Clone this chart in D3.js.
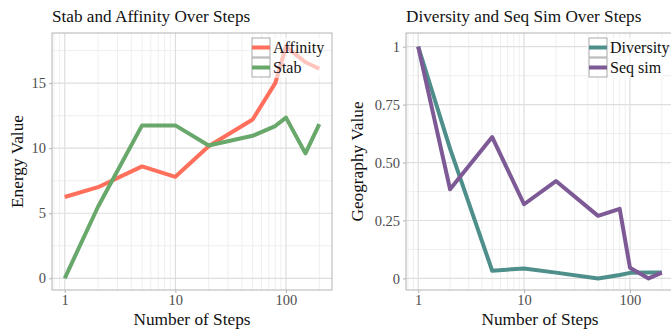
<!DOCTYPE html>
<html>
<head>
<meta charset="utf-8">
<script src="https://cdn.jsdelivr.net/npm/d3@7"></script>
<style>
  body { margin: 0; background: #fff; }
  svg { display: block; font-family: "Liberation Serif", "Times New Roman", serif; }
</style>
</head>
<body>
<svg id="chart" width="671" height="330"></svg>
<script>
const steps = [1, 2, 5, 10, 20, 50, 80, 100, 150, 200];
const affinity = [6.25, 7.0, 8.6, 7.8, 10.15, 12.2, 15.0, 17.8, 16.6, 16.1];
const stab = [0.0, 5.5, 11.75, 11.75, 10.2, 10.95, 11.7, 12.35, 9.6, 11.85];
const diversity = [1.0, 0.56, 0.033, 0.043, 0.025, 0.0, 0.015, 0.024, 0.025, 0.025];
const seqSim = [1.0, 0.385, 0.61, 0.32, 0.42, 0.27, 0.30, 0.046, 0.0, 0.025];

const xTicks = [1, 10, 100];
const leftYTicks = [0, 5, 10, 15];
const leftYLabels = ['0', '5', '10', '15'];
const rightYTicks = [0, 0.25, 0.5, 0.75, 1];
const rightYLabels = ['0', '0.25', '0.50', '0.75', '1'];

const FONT = '"Liberation Serif", "Times New Roman", serif';
const svg = d3.select('#chart');

function minorLogTicks(lo, hi) {
  const out = [];
  for (let p = -1; p <= 3; p++) {
    for (let m = 2; m < 10; m++) {
      const v = m * Math.pow(10, p);
      if (v > lo && v < hi) out.push(v);
    }
  }
  return out;
}

function panel(opts) {
  const { left, right, top, bottom, yDomain, yTicks, yLabels, yMinor, series, title, yTitle, yTitleX } = opts;

  const x = d3.scaleLog().domain([Math.pow(10, -0.115), Math.pow(10, 2.416)]).range([left, right]);
  const y = d3.scaleLinear().domain(yDomain).range([bottom, top]);

  const g = svg.append('g');
  const clipId = 'clip' + left;
  g.append('clipPath').attr('id', clipId)
    .append('rect').attr('x', left).attr('y', top).attr('width', right - left).attr('height', bottom - top);

  // minor grid
  const grid = g.append('g').attr('clip-path', `url(#${clipId})`);
  grid.selectAll('.vminor')
    .data(minorLogTicks(x.domain()[0], x.domain()[1]))
    .join('line')
    .attr('x1', d => x(d)).attr('x2', d => x(d))
    .attr('y1', top).attr('y2', bottom)
    .attr('stroke', '#efefef').attr('stroke-width', 1);
  grid.selectAll('.hminor')
    .data(yMinor)
    .join('line')
    .attr('y1', d => y(d)).attr('y2', d => y(d))
    .attr('x1', left).attr('x2', right)
    .attr('stroke', '#efefef').attr('stroke-width', 1);
  // major grid
  grid.selectAll('.vmajor')
    .data(xTicks)
    .join('line')
    .attr('x1', d => x(d)).attr('x2', d => x(d))
    .attr('y1', top).attr('y2', bottom)
    .attr('stroke', '#dedede').attr('stroke-width', 1.2);
  grid.selectAll('.hmajor')
    .data(yTicks)
    .join('line')
    .attr('y1', d => y(d)).attr('y2', d => y(d))
    .attr('x1', left).attr('x2', right)
    .attr('stroke', '#dedede').attr('stroke-width', 1.2);

  // lines
  const line = d3.line().x((d, i) => x(steps[i])).y(d => y(d));
  const lines = g.append('g').attr('clip-path', `url(#${clipId})`);
  series.forEach(s => {
    lines.append('path')
      .datum(s.values)
      .attr('d', line)
      .attr('fill', 'none')
      .attr('stroke', s.color)
      .attr('stroke-width', 4)
      .attr('stroke-linejoin', 'round');
  });

  // panel border
  g.append('rect')
    .attr('x', left).attr('y', top)
    .attr('width', right - left).attr('height', bottom - top)
    .attr('fill', 'none').attr('stroke', '#b3b3b3').attr('stroke-width', 1);

  // axes
  const xAxis = g.append('g')
    .attr('transform', `translate(0,${bottom})`)
    .call(d3.axisBottom(x).tickValues(xTicks).tickFormat(d3.format('d')).tickSize(3).tickPadding(2));
  const yAxis = g.append('g')
    .attr('transform', `translate(${left},0)`)
    .call(d3.axisLeft(y).tickValues(yTicks).tickFormat((d, i) => yLabels[i]).tickSize(3).tickPadding(3));
  [xAxis, yAxis].forEach(a => {
    a.attr('font-family', FONT).attr('font-size', 14.5);
    a.select('.domain').remove();
    a.selectAll('.tick line').attr('stroke', '#b3b3b3');
    a.selectAll('.tick text').attr('fill', '#4d4d4d');
  });

  // titles
  g.append('text')
    .attr('x', left).attr('y', 22)
    .attr('fill', '#111').style('font-size', '17.2px')
    .text(title);
  g.append('text')
    .attr('x', (left + right) / 2).attr('y', 325)
    .attr('text-anchor', 'middle')
    .attr('fill', '#111').style('font-size', '17.3px')
    .text('Number of Steps');
  g.append('text')
    .attr('transform', `translate(${yTitleX},${(top + bottom) / 2}) rotate(-90)`)
    .attr('text-anchor', 'middle')
    .attr('fill', '#111').style('font-size', '17.3px')
    .text(yTitle);

  // legend
  const lx = opts.legendX, ly = 38;
  const lg = g.append('g');
  lg.append('rect')
    .attr('x', lx - 2).attr('y', ly - 1)
    .attr('width', right - lx - 8).attr('height', 41)
    .attr('fill', '#fff').attr('fill-opacity', 0.6);
  series.forEach((s, i) => {
    const ky = ly + i * 20;
    lg.append('rect')
      .attr('x', lx).attr('y', ky)
      .attr('width', 18).attr('height', 19)
      .attr('fill', '#fff').attr('fill-opacity', 0.6)
      .attr('stroke', '#a9a9a9').attr('stroke-width', 1);
    lg.append('line')
      .attr('x1', lx).attr('x2', lx + 18)
      .attr('y1', ky + 9.5).attr('y2', ky + 9.5)
      .attr('stroke', s.color).attr('stroke-width', 4);
    lg.append('text')
      .attr('x', lx + 21).attr('y', ky + 14.5)
      .attr('fill', '#111').style('font-size', '16px')
      .text(s.name);
  });
}

panel({
  left: 52, right: 332, top: 33, bottom: 290,
  yDomain: [-0.9, 18.85],
  yTicks: leftYTicks, yLabels: leftYLabels,
  yMinor: [2.5, 7.5, 12.5, 17.5],
  series: [
    { name: 'Affinity', values: affinity, color: '#ff6f5b' },
    { name: 'Stab', values: stab, color: '#69a86b' }
  ],
  title: 'Stab and Affinity Over Steps',
  yTitle: 'Energy Value', yTitleX: 23,
  legendX: 252
});

panel({
  left: 406, right: 674, top: 33, bottom: 290,
  yDomain: [-0.05, 1.059],
  yTicks: rightYTicks, yLabels: rightYLabels,
  yMinor: [0.125, 0.375, 0.625, 0.875],
  series: [
    { name: 'Diversity', values: diversity, color: '#4e8f8b' },
    { name: 'Seq sim', values: seqSim, color: '#7d5a95' }
  ],
  title: 'Diversity and Seq Sim Over Steps',
  yTitle: 'Geography Value', yTitleX: 363,
  legendX: 589
});
</script>
</body>
</html>
